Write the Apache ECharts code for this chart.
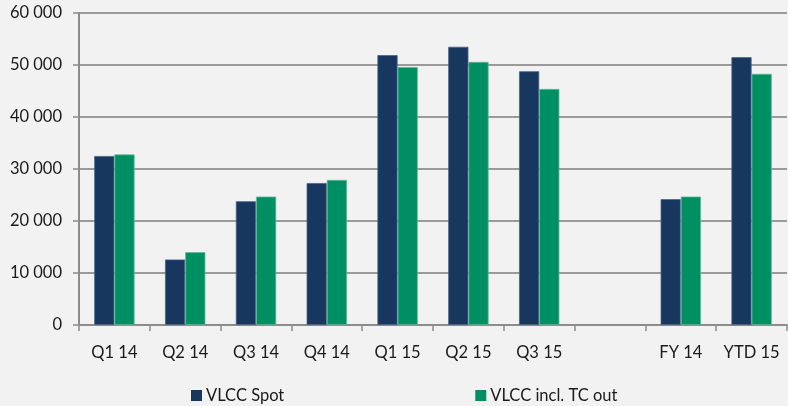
<!DOCTYPE html>
<html>
<head>
<meta charset="utf-8">
<script src="https://cdn.jsdelivr.net/npm/echarts@6/dist/echarts.min.js"></script>
<style>
  html, body { margin: 0; padding: 0; background: #f2f2f2; }
  #chart { width: 788px; height: 406px; }
</style>
</head>
<body>
<div id="chart"></div>
<script>
// 数据
var categories = ["Q1 14", "Q2 14", "Q3 14", "Q4 14", "Q1 15", "Q2 15", "Q3 15", "", "FY 14", "YTD 15"];
var spotValues = [32500, 12600, 23800, 27300, 51900, 53500, 48800, null, 24200, 51500];
var tcValues = [32800, 14000, 24700, 27900, 49600, 50600, 45400, null, 24700, 48300];
var seriesNames = ["VLCC Spot", "VLCC incl. TC out"];
var colors = ["#17375e", "#008f62"];

var chart = echarts.init(document.getElementById("chart"));

var font = "Lato, 'Open Sans', sans-serif";

var option = {
  backgroundColor: "#f2f2f2",
  animation: false,
  grid: {
    left: 79,
    right: 1,
    top: 13,
    bottom: 81,
    containLabel: false
  },
  legend: {
    left: 186,
    top: 382,
    itemWidth: 11,
    itemHeight: 11,
    itemGap: 191,
    icon: "rect",
    data: seriesNames,
    itemStyle: { borderWidth: 0 },
    textStyle: { color: "#1a1a1a", fontSize: 16.5, fontFamily: font, padding: [0, 0, 0, -1] }
  },
  xAxis: {
    type: "category",
    data: categories,
    axisLine: { lineStyle: { color: "#8c8c8c", width: 2 } },
    axisTick: { show: true, length: 6, lineStyle: { color: "#8c8c8c", width: 1.5 } },
    axisLabel: { color: "#1a1a1a", fontSize: 16.5, fontFamily: font, margin: 19, interval: 0 }
  },
  yAxis: {
    type: "value",
    min: 0,
    max: 60000,
    interval: 10000,
    axisLine: { show: true, lineStyle: { color: "#8c8c8c", width: 2 } },
    axisTick: { show: true, length: 6, lineStyle: { color: "#8c8c8c", width: 1.5 } },
    axisLabel: {
      color: "#1a1a1a",
      fontSize: 16.5,
      fontFamily: font,
      margin: 17,
      formatter: function (v) {
        return String(v).replace(/\B(?=(\d{3})+(?!\d))/g, " ");
      }
    },
    splitLine: { show: true, lineStyle: { color: "#9a9a9a", width: 2 } }
  },
  series: [
    {
      name: seriesNames[0],
      type: "bar",
      data: spotValues,
      barGap: "0%",
      barCategoryGap: "43%",
      itemStyle: { color: colors[0], borderColor: "#4a6488", borderWidth: 0.8 }
    },
    {
      name: seriesNames[1],
      type: "bar",
      data: tcValues,
      itemStyle: { color: colors[1], borderColor: "#5fb898", borderWidth: 0.8 }
    }
  ]
};

chart.setOption(option);
</script>
</body>
</html>
